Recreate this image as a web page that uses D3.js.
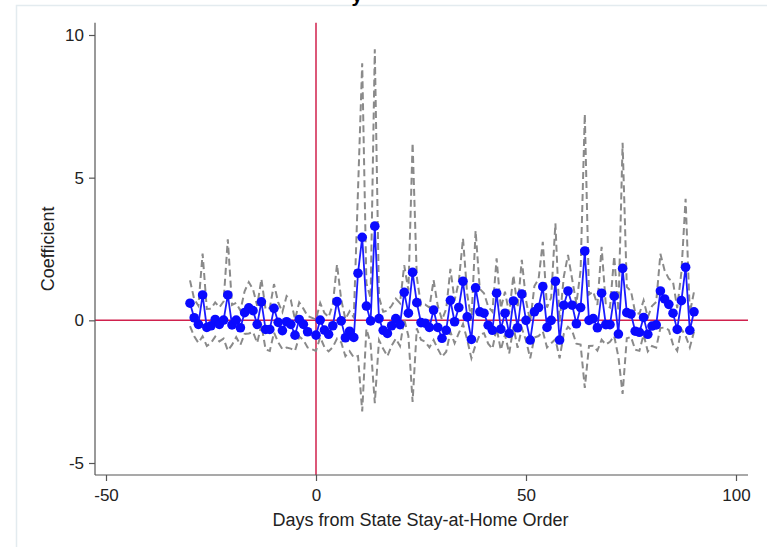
<!DOCTYPE html>
<html>
<head>
<meta charset="utf-8">
<script src="https://cdn.jsdelivr.net/npm/d3@7"></script>
<style>
  body { margin: 0; background: #fff; }
  svg { display: block; font-family: "Liberation Sans", Arial, sans-serif; }
</style>
</head>
<body>
<svg id="chart" width="767" height="547"></svg>
<script>
// days relative to the order (day -1 is the omitted category)
var days = [-30,-29,-28,-27,-26,-25,-24,-23,-22,-21,-20,-19,-18,-17,-16,-15,-14,-13,-12,-11,-10,-9,-8,-7,-6,-5,-4,-3,-2,
  0,1,2,3,4,5,6,7,8,9,10,11,12,13,14,15,16,17,18,19,20,21,22,23,24,25,26,27,28,29,30,
  31,32,33,34,35,36,37,38,39,40,41,42,43,44,45,46,47,48,49,50,51,52,53,54,55,56,57,58,59,60,
  61,62,63,64,65,66,67,68,69,70,71,72,73,74,75,76,77,78,79,80,81,82,83,84,85,86,87,88,89,90];

var coef = [0.60,0.09,-0.14,0.89,-0.25,-0.19,0.03,-0.14,0.01,0.89,-0.16,0.01,-0.26,0.27,0.44,0.34,-0.14,0.65,-0.32,-0.32,0.42,-0.07,-0.36,-0.05,-0.14,-0.52,0.03,-0.14,-0.40,
  -0.52,0.01,-0.34,-0.49,-0.19,0.66,-0.02,-0.61,-0.38,-0.60,1.65,2.91,0.50,-0.02,3.30,0.06,-0.35,-0.46,-0.19,0.06,-0.15,0.98,0.25,1.68,0.62,-0.08,-0.10,-0.25,0.36,-0.25,-0.63,
  -0.35,0.70,-0.05,0.45,1.37,0.12,-0.67,1.14,0.30,0.25,-0.17,-0.35,0.95,-0.31,0.25,-0.46,0.68,-0.26,0.92,0.00,-0.69,0.30,0.45,1.18,-0.25,0.00,1.37,-0.69,0.53,1.03,
  0.53,-0.12,0.45,2.43,0.00,0.06,-0.26,0.95,-0.15,-0.15,0.85,-0.48,1.82,0.27,0.22,-0.38,-0.42,0.10,-0.49,-0.20,-0.16,1.03,0.75,0.56,0.25,-0.32,0.69,1.86,-0.35,0.30];

var ciHigh = [1.40,0.74,0.51,2.34,0.40,0.41,0.63,0.46,0.66,2.84,0.54,0.61,0.34,1.02,1.34,1.09,0.51,1.45,0.38,0.43,1.27,0.63,0.29,0.85,0.71,0.03,0.63,0.41,0.15,
  0.03,0.61,0.26,0.11,0.56,1.96,0.73,0.04,0.32,0.10,4.55,9.01,1.30,0.78,9.50,0.81,0.30,0.34,0.51,0.76,0.60,1.93,1.05,6.22,1.52,0.52,0.55,0.45,1.41,0.50,0.02,
  0.40,1.80,0.70,1.35,2.87,0.92,-0.01,3.14,1.10,0.95,0.48,0.30,2.17,0.42,1.00,0.24,1.58,0.44,2.12,0.70,-0.05,1.20,1.45,2.75,0.45,0.80,3.40,-0.05,1.53,2.29,
  1.43,0.58,1.75,7.23,0.90,1.01,0.54,2.58,0.55,0.45,2.25,0.32,6.22,1.17,1.02,0.27,0.23,0.70,0.11,0.50,0.64,2.33,1.75,1.46,1.35,0.43,1.69,4.26,0.25,1.00];

var ciLow = [-0.20,-0.56,-0.79,-0.56,-0.90,-0.79,-0.57,-0.74,-0.64,-1.06,-0.86,-0.59,-0.86,-0.48,-0.46,-0.41,-0.79,-0.15,-1.02,-1.07,-0.43,-0.77,-1.01,-0.95,-0.99,-1.07,-0.57,-0.69,-0.95,
  -1.07,-0.59,-0.94,-1.09,-0.94,-0.64,-0.77,-1.26,-1.08,-1.30,-1.25,-3.19,-0.30,-0.82,-2.90,-0.69,-1.00,-1.26,-0.89,-0.64,-0.90,0.03,-0.55,-2.86,-0.28,-0.68,-0.75,-0.95,-0.69,-1.00,-1.28,
  -1.10,-0.40,-0.80,-0.45,-0.13,-0.68,-1.33,-0.86,-0.50,-0.45,-0.82,-1.00,-0.27,-1.04,-0.50,-1.16,-0.22,-0.96,-0.28,-0.70,-1.33,-0.60,-0.55,-0.39,-0.95,-0.80,-0.66,-1.33,-0.47,-0.23,
  -0.37,-0.82,-0.85,-2.37,-0.90,-0.89,-1.06,-0.68,-0.85,-0.75,-0.55,-1.28,-2.58,-0.63,-0.58,-1.03,-1.07,-0.50,-1.09,-0.90,-0.96,-0.27,-0.25,-0.34,-0.85,-1.07,-0.31,-0.54,-0.95,-0.40];

var xTicks = [-50, 0, 50, 100];
var yTicks = [-5, 0, 5, 10];

var svg = d3.select("#chart");

// light outer frame of the graph region
svg.append("rect")
  .attr("x", 16.5).attr("y", 5.5)
  .attr("width", 800).attr("height", 600)
  .attr("fill", "none").attr("stroke", "#e3ebef").attr("stroke-width", 1.5);

// bit of the clipped title
svg.append("text")
  .attr("x", 357).attr("y", 2)
  .style("font-size", "20px").style("font-weight", "bold")
  .attr("text-anchor", "middle")
  .text("y");

var plotL = 95, plotR = 748, plotT = 22.7, plotB = 475;

var x = d3.scaleLinear().domain([0, 50]).range([316, 526]);
var y = d3.scaleLinear().domain([10, -5]).range([35, 463]);

var g = svg.append("g");

// reference lines
g.append("line")
  .attr("x1", plotL).attr("x2", plotR)
  .attr("y1", y(0)).attr("y2", y(0))
  .attr("stroke", "#d0214d").attr("stroke-width", 1.5);
g.append("line")
  .attr("x1", x(0)).attr("x2", x(0))
  .attr("y1", plotT).attr("y2", plotB)
  .attr("stroke", "#d0214d").attr("stroke-width", 1.5);

// confidence bounds
var toPath = function (arr) {
  return d3.line().x(function (d, i) { return x(days[i]); }).y(function (d) { return y(d); })(arr);
};
[ciHigh, ciLow].forEach(function (arr) {
  g.append("path")
    .attr("d", toPath(arr))
    .attr("fill", "none")
    .attr("stroke", "#8a8a8a")
    .attr("stroke-width", 2)
    .attr("stroke-dasharray", "7,4");
});

// coefficients
g.append("path")
  .attr("d", toPath(coef))
  .attr("fill", "none")
  .attr("stroke", "#1a1aff")
  .attr("stroke-width", 1.8);

g.selectAll("circle.pt").data(coef).enter().append("circle")
  .attr("class", "pt")
  .attr("cx", function (d, i) { return x(days[i]); })
  .attr("cy", function (d) { return y(d); })
  .attr("r", 4.8)
  .attr("fill", "#0a0aff");

// axes (plain hyphen minus like the original)
var fmt = function (d) { return String(d); };
var xAxis = d3.axisBottom(x).tickValues(xTicks).tickSize(6).tickPadding(8).tickFormat(fmt);
var yAxis = d3.axisLeft(y).tickValues(yTicks).tickSize(6).tickPadding(5).tickFormat(fmt);

var gx = svg.append("g").attr("transform", "translate(0," + plotB + ")").call(xAxis);
gx.select(".domain").attr("d", "M" + plotL + ",0H" + plotR);
var gy = svg.append("g").attr("transform", "translate(" + plotL + ",0)").call(yAxis);
gy.select(".domain").attr("d", "M0," + plotT + "V" + plotB);

[gx, gy].forEach(function (ax) {
  ax.selectAll(".domain, .tick line").attr("stroke", "#555").attr("stroke-width", 1.2);
  ax.selectAll("text").attr("fill", "#222").style("font-size", "17px").style("font-family", "Liberation Sans, Arial, sans-serif");
});

// axis titles
svg.append("text")
  .attr("x", (plotL + plotR) / 2 - 1).attr("y", 526)
  .attr("text-anchor", "middle")
  .attr("fill", "#222")
  .style("font-size", "18px")
  .text("Days from State Stay-at-Home Order");

svg.append("text")
  .attr("transform", "translate(54," + ((plotT + plotB) / 2) + ") rotate(-90)")
  .attr("text-anchor", "middle")
  .attr("fill", "#222")
  .style("font-size", "18px")
  .text("Coefficient");
</script>
</body>
</html>
